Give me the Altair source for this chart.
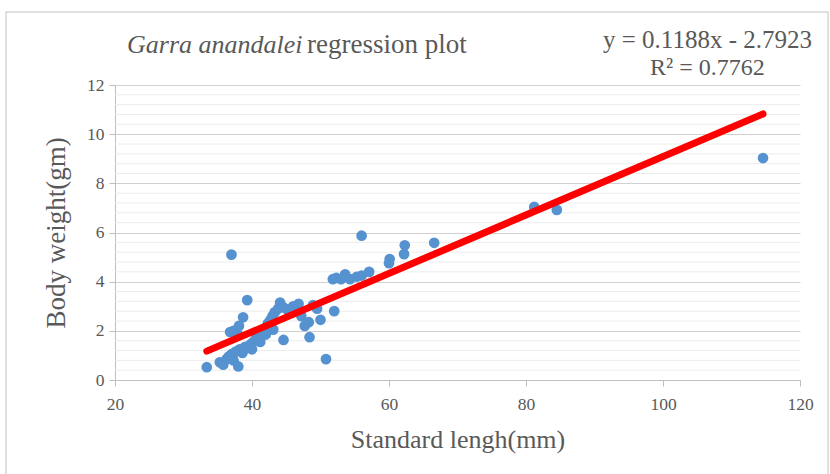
import altair as alt
import pandas as pd

# ---- data ----
length_mm = [
    33.4, 35.3, 35.8, 36.3, 36.6, 37.0, 37.3, 37.6, 38.0, 38.2, 38.6, 39.0, 39.4,
    39.8, 40.2, 40.6, 41.0, 41.5, 42.0, 42.3, 42.7, 43.0, 43.3, 43.8, 44.1, 44.6,
    45.2, 46.0, 46.8, 47.2, 47.7, 48.3, 48.9, 49.5, 50.0, 52.0, 43.1, 44.6, 48.4,
    50.8, 37.0, 39.3, 38.7, 37.3, 37.8, 38.1, 36.8, 51.8, 52.3, 53.0, 53.6, 54.3,
    55.3, 56.0, 57.1, 56.0, 60.0, 60.1, 62.2, 62.3, 66.6, 81.2, 84.5, 114.6,
    40.0, 41.2, 45.8, 42.0,
]
weight_gm = [
    0.52, 0.72, 0.62, 0.85, 0.95, 1.05, 0.80, 1.15, 0.55, 1.25, 1.10, 1.35, 1.30,
    1.45, 1.55, 1.70, 1.80, 1.95, 2.10, 2.30, 2.45, 2.60, 2.75, 2.90, 3.15, 2.95,
    2.85, 3.00, 3.10, 2.60, 2.20, 2.35, 3.05, 2.90, 2.45, 2.80, 2.05, 1.63, 1.74,
    0.85, 5.10, 3.25, 2.55, 2.00, 1.90, 2.20, 1.95, 4.10, 4.15, 4.10, 4.30, 4.10,
    4.20, 4.25, 4.40, 5.87, 4.75, 4.92, 5.12, 5.48, 5.58, 7.04, 6.92, 9.03,
    1.25, 1.55, 2.75, 1.85,
]
slope = 0.1188
intercept = -2.7923
r_squared = 0.7762

x_ticks = [20, 40, 60, 80, 100, 120]
y_ticks = [0, 2, 4, 6, 8, 10, 12]
y_minor = [round(k * 0.4, 1) for k in range(1, 30) if k % 5 != 0]

title_italic = "Garra anandalei"
title_rest = "regression plot"
x_title = "Standard lengh(mm)"
y_title = "Body weight(gm)"

# ---- tables ----
pts = pd.DataFrame({"x": length_mm, "y": weight_gm})
fit = pd.DataFrame({"x": [min(length_mm), max(length_mm)]})
fit["y"] = slope * fit["x"] + intercept
minor = pd.DataFrame({"y": y_minor})
one = pd.DataFrame({"k": [0]})

FONT = "Liberation Serif"
GREY = "#595959"

xs = alt.Scale(domain=[20, 120], nice=False)
ys = alt.Scale(domain=[0, 12], nice=False)

x_axis = alt.Axis(values=x_ticks, grid=False, domainColor="#bfbfbf", tickColor="#bfbfbf",
                  tickSize=6, labelFont=FONT, labelFontSize=17.5, labelColor=GREY,
                  labelFlush=False, labelPadding=9, title=x_title, titleFont=FONT,
                  titleFontSize=26, titleFontWeight="normal", titleColor=GREY,
                  titlePadding=14)
y_axis = alt.Axis(values=y_ticks, grid=True, gridColor="#d0d0d0", domainColor="#bfbfbf",
                  tickColor="#bfbfbf", tickSize=6, labelFont=FONT, labelFontSize=17.5,
                  labelColor=GREY, labelFlush=False, labelPadding=5, title=y_title,
                  titleFont=FONT, titleFontSize=27, titleFontWeight="normal",
                  titleColor=GREY, titlePadding=16)

frame = alt.Chart(one).mark_rect(fill=None, stroke="#d6d6d6", strokeWidth=1.5, clip=False).encode(
    x=alt.value(-109), x2=alt.value(713), y=alt.value(-73), y2=alt.value(420))

minor_grid = alt.Chart(minor).mark_rule(color="#ececec", strokeWidth=1).encode(
    y=alt.Y("y:Q", scale=ys, axis=y_axis),
    x=alt.value(0), x2=alt.value(685))

points = alt.Chart(pts).mark_circle(size=115, color="#5592cf", opacity=1).encode(
    x=alt.X("x:Q", scale=xs, axis=x_axis),
    y=alt.Y("y:Q", scale=ys, axis=y_axis))

trend = alt.Chart(fit).mark_line(color="#ff0000", strokeWidth=7, strokeCap="round").encode(
    x=alt.X("x:Q", scale=xs), y=alt.Y("y:Q", scale=ys))

t1 = alt.Chart(one).mark_text(text=title_italic, font=FONT, fontSize=26, fontStyle="italic",
                              color=GREY, align="left", baseline="middle").encode(
    x=alt.value(12), y=alt.value(-40))
t2 = alt.Chart(one).mark_text(text=title_rest, font=FONT, fontSize=27,
                              color=GREY, align="left", baseline="middle").encode(
    x=alt.value(192), y=alt.value(-40))
eq = alt.Chart(one).mark_text(text=f"y = {slope}x - {abs(intercept)}", font=FONT, fontSize=25,
                              color=GREY, align="left", baseline="middle").encode(
    x=alt.value(488), y=alt.value(-45))
r2 = alt.Chart(one).mark_text(text=f"R² = {r_squared}", font=FONT, fontSize=24,
                              color=GREY, align="left", baseline="middle").encode(
    x=alt.value(535), y=alt.value(-17))

chart = alt.layer(frame, minor_grid, points, trend, t1, t2, eq, r2).properties(
    width=685, height=295,
    autosize=alt.AutoSizeParams(type="none"),
    padding={"left": 115, "top": 85, "right": 30, "bottom": 94},
    background="white",
).configure_view(stroke=None)

chart.save("out.html", embed_options={"renderer": "svg", "actions": False})
